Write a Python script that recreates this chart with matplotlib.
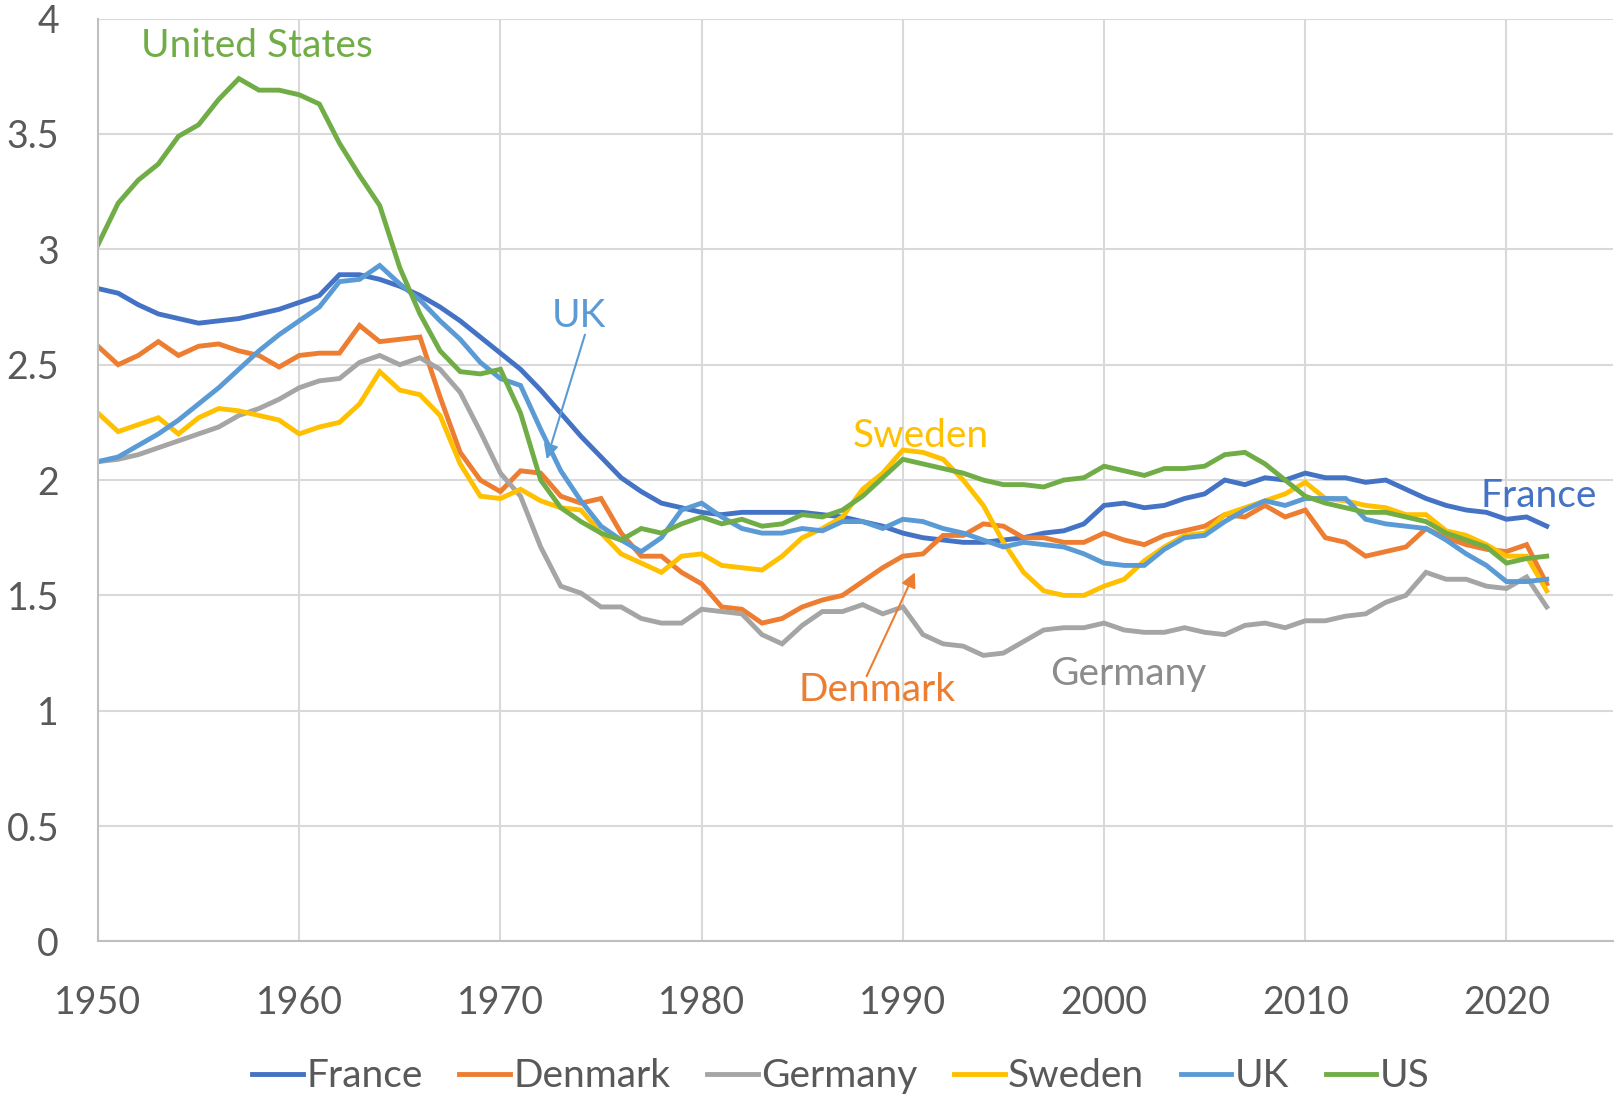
import numpy as np
import matplotlib
matplotlib.use('Agg')
import matplotlib.pyplot as plt

# Total fertility rate, 1950-2022
years = np.arange(1950, 2023)

france = [2.83, 2.81, 2.76, 2.72, 2.70, 2.68, 2.69, 2.70, 2.72, 2.74,
          2.77, 2.80, 2.89, 2.89, 2.87, 2.84, 2.80, 2.75, 2.69, 2.62,
          2.55, 2.48, 2.39, 2.29, 2.19, 2.10, 2.01, 1.95, 1.90, 1.88,
          1.86, 1.85, 1.86, 1.86, 1.86, 1.86, 1.85, 1.84, 1.82, 1.80,
          1.77, 1.75, 1.74, 1.73, 1.73, 1.74, 1.75, 1.77, 1.78, 1.81,
          1.89, 1.90, 1.88, 1.89, 1.92, 1.94, 2.00, 1.98, 2.01, 2.00,
          2.03, 2.01, 2.01, 1.99, 2.00, 1.96, 1.92, 1.89, 1.87, 1.86,
          1.83, 1.84, 1.80]
denmark = [2.58, 2.50, 2.54, 2.60, 2.54, 2.58, 2.59, 2.56, 2.54, 2.49,
           2.54, 2.55, 2.55, 2.67, 2.60, 2.61, 2.62, 2.36, 2.12, 2.00,
           1.95, 2.04, 2.03, 1.93, 1.90, 1.92, 1.77, 1.67, 1.67, 1.60,
           1.55, 1.45, 1.44, 1.38, 1.40, 1.45, 1.48, 1.50, 1.56, 1.62,
           1.67, 1.68, 1.76, 1.76, 1.81, 1.80, 1.75, 1.75, 1.73, 1.73,
           1.77, 1.74, 1.72, 1.76, 1.78, 1.80, 1.85, 1.84, 1.89, 1.84,
           1.87, 1.75, 1.73, 1.67, 1.69, 1.71, 1.79, 1.75, 1.72, 1.70,
           1.69, 1.72, 1.55]
germany = [2.08, 2.09, 2.11, 2.14, 2.17, 2.20, 2.23, 2.28, 2.31, 2.35,
           2.40, 2.43, 2.44, 2.51, 2.54, 2.50, 2.53, 2.48, 2.38, 2.21,
           2.03, 1.93, 1.71, 1.54, 1.51, 1.45, 1.45, 1.40, 1.38, 1.38,
           1.44, 1.43, 1.42, 1.33, 1.29, 1.37, 1.43, 1.43, 1.46, 1.42,
           1.45, 1.33, 1.29, 1.28, 1.24, 1.25, 1.30, 1.35, 1.36, 1.36,
           1.38, 1.35, 1.34, 1.34, 1.36, 1.34, 1.33, 1.37, 1.38, 1.36,
           1.39, 1.39, 1.41, 1.42, 1.47, 1.50, 1.60, 1.57, 1.57, 1.54,
           1.53, 1.58, 1.45]
sweden = [2.29, 2.21, 2.24, 2.27, 2.20, 2.27, 2.31, 2.30, 2.28, 2.26,
          2.20, 2.23, 2.25, 2.33, 2.47, 2.39, 2.37, 2.28, 2.07, 1.93,
          1.92, 1.96, 1.91, 1.88, 1.87, 1.77, 1.68, 1.64, 1.60, 1.67,
          1.68, 1.63, 1.62, 1.61, 1.67, 1.75, 1.79, 1.84, 1.96, 2.03,
          2.13, 2.12, 2.09, 2.00, 1.89, 1.73, 1.60, 1.52, 1.50, 1.50,
          1.54, 1.57, 1.65, 1.71, 1.76, 1.77, 1.85, 1.88, 1.91, 1.94,
          1.99, 1.92, 1.91, 1.89, 1.88, 1.85, 1.85, 1.78, 1.76, 1.72,
          1.67, 1.67, 1.52]
uk = [2.08, 2.10, 2.15, 2.20, 2.26, 2.33, 2.40, 2.48, 2.56, 2.63,
      2.69, 2.75, 2.86, 2.87, 2.93, 2.85, 2.78, 2.69, 2.61, 2.51,
      2.44, 2.41, 2.22, 2.04, 1.91, 1.80, 1.74, 1.69, 1.75, 1.87,
      1.90, 1.84, 1.79, 1.77, 1.77, 1.79, 1.78, 1.82, 1.82, 1.79,
      1.83, 1.82, 1.79, 1.77, 1.74, 1.71, 1.73, 1.72, 1.71, 1.68,
      1.64, 1.63, 1.63, 1.70, 1.75, 1.76, 1.82, 1.87, 1.91, 1.89,
      1.92, 1.92, 1.92, 1.83, 1.81, 1.80, 1.79, 1.74, 1.68, 1.63,
      1.56, 1.56, 1.57]
us = [3.02, 3.20, 3.30, 3.37, 3.49, 3.54, 3.65, 3.74, 3.69, 3.69,
      3.67, 3.63, 3.46, 3.32, 3.19, 2.92, 2.72, 2.56, 2.47, 2.46,
      2.48, 2.29, 2.00, 1.88, 1.82, 1.77, 1.74, 1.79, 1.77, 1.81,
      1.84, 1.81, 1.83, 1.80, 1.81, 1.85, 1.84, 1.87, 1.93, 2.01,
      2.09, 2.07, 2.05, 2.03, 2.00, 1.98, 1.98, 1.97, 2.00, 2.01,
      2.06, 2.04, 2.02, 2.05, 2.05, 2.06, 2.11, 2.12, 2.07, 2.00,
      1.93, 1.90, 1.88, 1.86, 1.86, 1.84, 1.82, 1.77, 1.74, 1.71,
      1.64, 1.66, 1.67]

series_names = ['France', 'Denmark', 'Germany', 'Sweden', 'UK', 'US']
series_values = [france, denmark, germany, sweden, uk, us]
colors = ['#4472C4', '#ED7D31', '#A5A5A5', '#FFC000', '#5B9BD5', '#70AD47']

x_ticks = [1950, 1960, 1970, 1980, 1990, 2000, 2010, 2020]
y_ticks = [0, 0.5, 1, 1.5, 2, 2.5, 3, 3.5, 4]
y_ticklabels = ['0', '0.5', '1', '1.5', '2', '2.5', '3', '3.5', '4']

plt.rcParams['font.family'] = ['Lato', 'DejaVu Sans']

fig = plt.figure(figsize=(16.17, 10.96), dpi=100)
ax = fig.add_axes([0.0606, 0.141, 0.937, 0.842])

for name, vals, c in zip(series_names, series_values, colors):
    ax.plot(years, vals, color=c, linewidth=3.5, label=name,
            solid_joinstyle='miter')

ax.set_xlim(1950, 2025.3)
ax.set_ylim(0, 4)
ax.set_xticks(x_ticks)
ax.set_yticks(y_ticks)
ax.set_yticklabels(y_ticklabels)
ax.grid(True, color='#d9d9d9', linewidth=1.5)
ax.set_axisbelow(True)
for side in ['top', 'right']:
    ax.spines[side].set_visible(False)
for side in ['left', 'bottom']:
    ax.spines[side].set_color('#bfbfbf')
    ax.spines[side].set_linewidth(1.5)
ax.tick_params(axis='both', length=0, labelsize=27, colors='#595959')
ax.tick_params(axis='x', pad=31)
ax.tick_params(axis='y', pad=28)

# in-chart labels
lbl = 28
ax.text(1957.9, 3.88, 'United States', color='#70AD47', fontsize=lbl,
        ha='center', va='center')
ax.text(1973.9, 2.71, 'UK', color='#5B9BD5', fontsize=lbl,
        ha='center', va='center')
ax.text(1990.9, 2.19, 'Sweden', color='#FFC000', fontsize=lbl,
        ha='center', va='center')
ax.text(2021.6, 1.93, 'France', color='#4472C4', fontsize=lbl,
        ha='center', va='center')
ax.text(2001.2, 1.16, 'Germany', color='#8c8c8c', fontsize=lbl,
        ha='center', va='center')
ax.text(1988.7, 1.09, 'Denmark', color='#ED7D31', fontsize=lbl,
        ha='center', va='center')

ax.annotate('', xy=(1972.3, 2.09), xytext=(1974.2, 2.63),
            arrowprops=dict(arrowstyle='-|>', color='#5B9BD5', lw=1.5,
                            mutation_scale=22, shrinkA=0, shrinkB=0))
ax.annotate('', xy=(1990.6, 1.60), xytext=(1988.2, 1.15),
            arrowprops=dict(arrowstyle='-|>', color='#ED7D31', lw=1.5,
                            mutation_scale=22, shrinkA=0, shrinkB=0))

leg = fig.legend(loc='center', bbox_to_anchor=(0.52, 0.018), ncol=6,
                 frameon=False, fontsize=28, handlelength=1.3,
                 handletextpad=0.08, columnspacing=0.95)
for t in leg.get_texts():
    t.set_color('#595959')

fig.savefig('out.png', dpi=100)
